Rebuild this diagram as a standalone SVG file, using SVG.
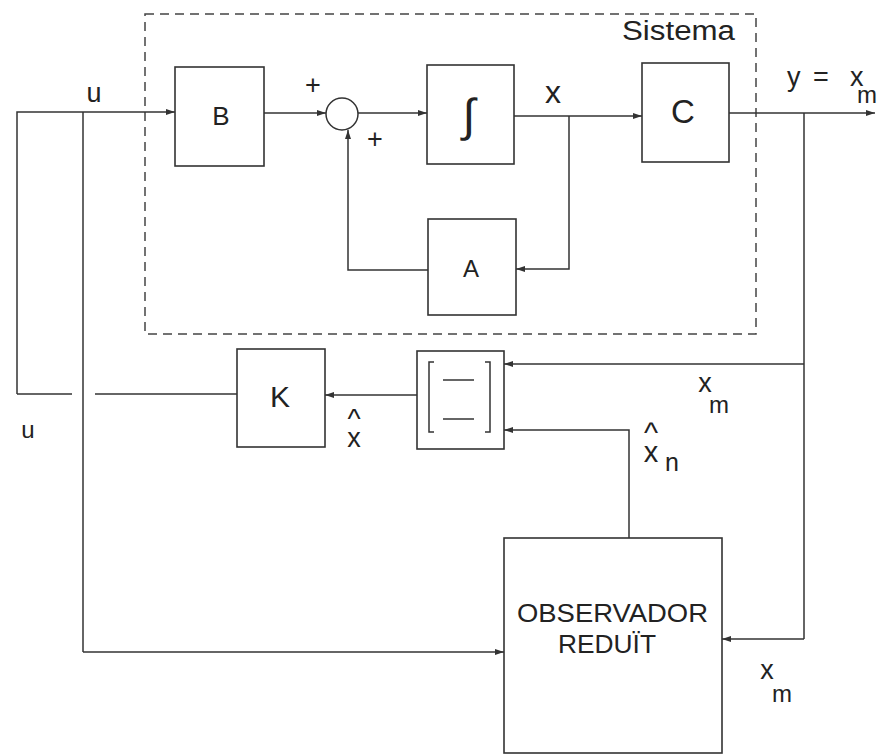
<svg xmlns="http://www.w3.org/2000/svg" width="877" height="755" viewBox="0 0 877 755">
<defs>
<marker id="ah" markerWidth="10" markerHeight="8" refX="9" refY="4" orient="auto" markerUnits="userSpaceOnUse">
<path d="M0,1 L9,4 L0,7 Z" fill="#333"/>
</marker>
</defs>
<style>
.bx{fill:#fff;stroke:#333;stroke-width:1.6}
.ln{fill:none;stroke:#333;stroke-width:1.5}
.ar{fill:none;stroke:#333;stroke-width:1.5;marker-end:url(#ah)}
.t{font-family:"Liberation Sans",Arial,sans-serif;fill:#222}
</style>
<rect width="877" height="755" fill="#fff"/>
<g id="sistema">
<rect x="145" y="14" width="611" height="320" fill="none" stroke="#444" stroke-width="1.5" stroke-dasharray="9,6"/>
<text class="t" x="622" y="40" font-size="27" textLength="113" lengthAdjust="spacingAndGlyphs">Sistema</text>
</g>
<g id="connectors">
<polyline class="ar" points="17,394 17,112 175,112"/>
<polyline class="ln" points="83,112 83,652"/>
<polyline class="ar" points="83,652 504,652"/>
<polyline class="ln" points="17,394 72,394"/>
<polyline class="ln" points="95,394 237,394"/>
<polyline class="ar" points="264,113 326,113"/>
<polyline class="ar" points="358,113 427,113"/>
<polyline class="ar" points="514,116 642,116"/>
<polyline class="ar" points="569,116 569,269 516,269"/>
<polyline class="ar" points="428,270 348,270 348,130"/>
<polyline class="ar" points="729,113 875,113"/>
<polyline class="ln" points="804,113 804,639"/>
<polyline class="ar" points="804,639 722,639"/>
<polyline class="ar" points="804,364 504,364"/>
<polyline class="ar" points="629,538 629,430 504,430"/>
<polyline class="ar" points="417,395 325,395"/>
</g>
<g id="B">
<rect class="bx" x="175" y="67" width="89" height="99"/>
<text class="t" x="221" y="125" font-size="26" text-anchor="middle">B</text>
</g>
<g id="sum">
<circle cx="342" cy="114" r="16" fill="#fff" stroke="#333" stroke-width="1.5"/>
<text class="t" x="313" y="94" font-size="27" text-anchor="middle">+</text>
<text class="t" x="375" y="148" font-size="27" text-anchor="middle">+</text>
</g>
<g id="integrator">
<rect class="bx" x="427" y="65" width="87" height="99"/>
<text class="t" x="469" y="131" font-size="46" text-anchor="middle">∫</text>
</g>
<g id="A">
<rect class="bx" x="428" y="219" width="88" height="96"/>
<text class="t" x="471" y="277" font-size="24" text-anchor="middle">A</text>
</g>
<g id="C">
<rect class="bx" x="642" y="63" width="87" height="99"/>
<text class="t" x="683" y="123" font-size="33" text-anchor="middle">C</text>
</g>
<g id="K">
<rect class="bx" x="237" y="349" width="88" height="98"/>
<text class="t" x="280" y="407" font-size="30" text-anchor="middle">K</text>
</g>
<g id="matrix">
<rect class="bx" x="417" y="351" width="87" height="98"/>
<polyline class="ln" points="434,362 429,362 429,432 434,432"/>
<polyline class="ln" points="485,362 490,362 490,432 485,432"/>
<line class="ln" x1="443" y1="380" x2="474" y2="380"/>
<line class="ln" x1="443" y1="419" x2="474" y2="419"/>
</g>
<g id="observador">
<rect class="bx" x="504" y="538" width="218" height="215"/>
<text class="t" x="517" y="622" font-size="25" textLength="191" lengthAdjust="spacingAndGlyphs">OBSERVADOR</text>
<text class="t" x="558" y="653" font-size="25" textLength="98" lengthAdjust="spacingAndGlyphs">REDUÏT</text>
</g>
<g id="labels">
<text class="t" x="94" y="102" font-size="27" text-anchor="middle">u</text>
<text class="t" x="28" y="438" font-size="24" text-anchor="middle">u</text>
<text class="t" x="553" y="103" font-size="32" text-anchor="middle">x</text>
<text class="t" font-size="27"><tspan x="787" y="86">y</tspan><tspan x="813" y="86">=</tspan><tspan x="850" y="86">x</tspan><tspan x="857" y="103" font-size="24">m</tspan></text>
<text class="t" text-anchor="middle"><tspan x="354" y="428" font-size="28">^</tspan><tspan x="354" y="447" font-size="27">x</tspan></text>
<text class="t" x="705" y="392" font-size="27" text-anchor="middle">x</text>
<text class="t" x="719" y="413" font-size="24" text-anchor="middle">m</text>
<text class="t" text-anchor="middle"><tspan x="651" y="443" font-size="30">^</tspan><tspan x="651" y="462" font-size="29">x</tspan><tspan x="672" y="471" font-size="25">n</tspan></text>
<text class="t" x="767" y="679" font-size="27" text-anchor="middle">x</text>
<text class="t" x="782" y="702" font-size="24" text-anchor="middle">m</text>
</g>
</svg>
